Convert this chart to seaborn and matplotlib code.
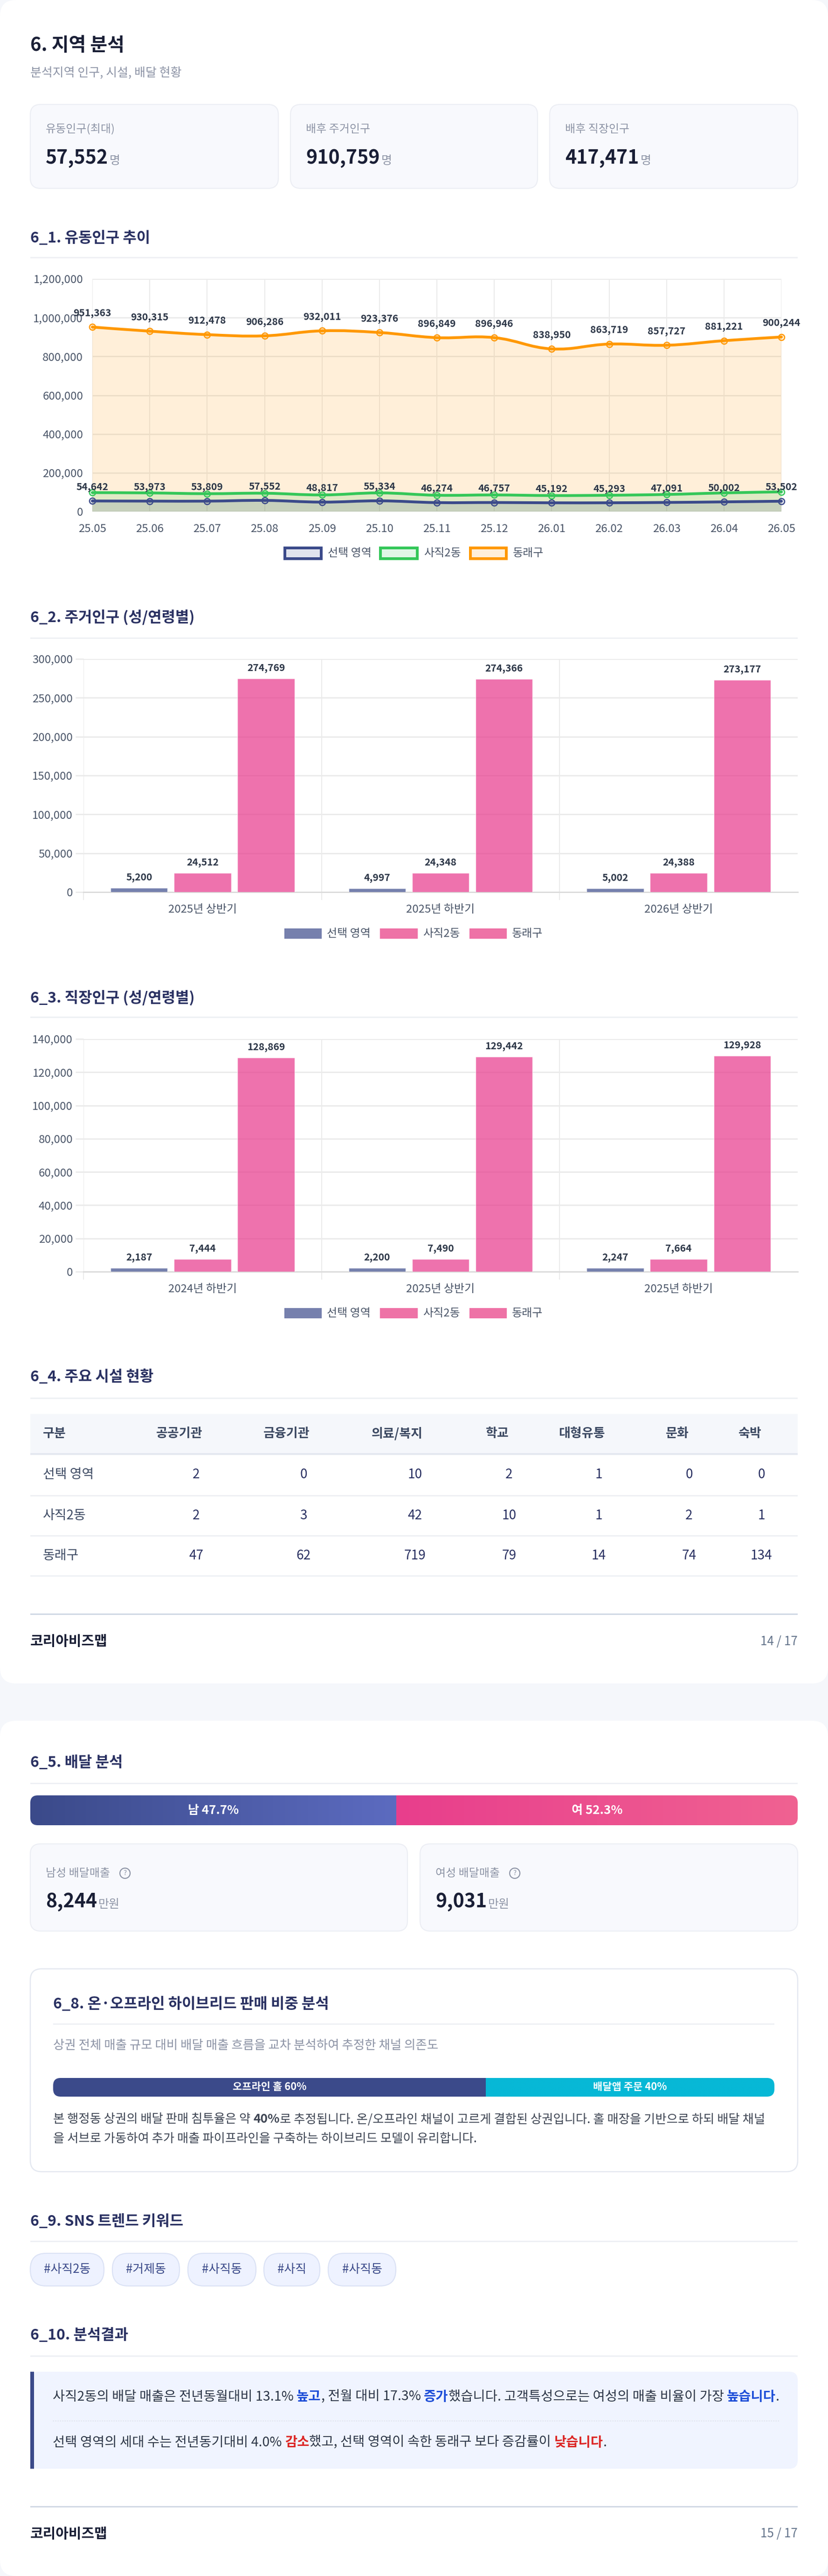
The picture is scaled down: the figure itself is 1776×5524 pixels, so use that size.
import numpy as np
import pandas as pd
import matplotlib
matplotlib.use("Agg")
import matplotlib.pyplot as plt
import seaborn as sns
from matplotlib.patches import FancyBboxPatch, PathPatch, Rectangle, Circle
from matplotlib.path import Path
from matplotlib.colors import LinearSegmentedColormap
from matplotlib.ticker import FuncFormatter

# --- data ---
months = ["25.05", "25.06", "25.07", "25.08", "25.09", "25.10", "25.11", "25.12",
          "26.01", "26.02", "26.03", "26.04", "26.05"]
float_selected = [54642, 53973, 53809, 57552, 48817, 55334, 46274, 46757, 45192, 45293, 47091, 50002, 53502]
float_sajik = [97800, 96200, 92200, 94600, 85800, 96200, 84200, 85800, 82600, 84200, 88200, 96200, 101800]
float_dongnae = [951363, 930315, 912478, 906286, 932011, 923376, 896849, 896946, 838950, 863719, 857727, 881221, 900244]

area_names = ["선택 영역", "사직2동", "동래구"]

resident_periods = ["2025년 상반기", "2025년 하반기", "2026년 상반기"]
resident_selected = [5200, 4997, 5002]
resident_sajik = [24512, 24348, 24388]
resident_dongnae = [274769, 274366, 273177]

worker_periods = ["2024년 하반기", "2025년 상반기", "2025년 하반기"]
worker_selected = [2187, 2200, 2247]
worker_sajik = [7444, 7490, 7664]
worker_dongnae = [128869, 129442, 129928]

facility_cols = ["공공기관", "금융기관", "의료/복지", "학교", "대형유통", "문화", "숙박"]
facility_selected = [2, 0, 10, 2, 1, 0, 0]
facility_sajik = [2, 3, 42, 10, 1, 2, 1]
facility_dongnae = [47, 62, 719, 79, 14, 74, 134]

delivery_gender = [47.7, 52.3]
delivery_channel = [60, 40]
keywords = ["#사직2동", "#거제동", "#사직동", "#사직", "#사직동"]

# --- colours ---
NAVY = "#3b4a8a"
GREEN = "#34c759"
ORANGE = "#ff9800"
PINK = "#e8378a"
GRID = "#ebebeb"
AXIS = "#dcdcdc"
TICK = "#4a5568"
LABEL = "#2d3748"
INK = "#1a1f36"
HEAD = "#2a3162"
MUTED = "#8d94a6"
RULE = "#eef0f4"
PANEL = "#f8f9fd"
PANEL_EDGE = "#eceef4"
PAGE = "#f5f7fb"

W, H = 1776, 5524
DPI = 100

sns.set_theme(style="white")
plt.rcParams["font.family"] = ["Noto Sans CJK KR", "DejaVu Sans"]
plt.rcParams["axes.unicode_minus"] = False


def pt(px):
    return px * 72 / DPI


fig = plt.figure(figsize=(W / DPI, H / DPI), dpi=DPI, facecolor=PAGE)
bg = fig.add_axes([0, 0, 1, 1], zorder=0)
bg.set_xlim(0, W)
bg.set_ylim(H, 0)
bg.axis("off")


def px_axes(left, top, right, bottom, zorder=2):
    a = fig.add_axes([left / W, 1 - bottom / H, (right - left) / W, (bottom - top) / H], zorder=zorder)
    a.patch.set_alpha(0)
    return a


def text(x, y, s, size, color=INK, weight="normal", ha="left", **kw):
    return bg.text(x, y, s, fontsize=pt(size), color=color, fontweight=weight, ha=ha, va="center", **kw)


def box(x0, y0, x1, y1, r, face, edge="none", lw=0, z=1):
    p = FancyBboxPatch((x0, y0), x1 - x0, y1 - y0, boxstyle=f"round,pad=0,rounding_size={r}",
                       facecolor=face, edgecolor=edge, linewidth=lw, zorder=z)
    bg.add_patch(p)
    return p


def heading(x, y, s, rule_y, right=1711):
    text(x, y, s, 32, HEAD, "bold")
    bg.add_patch(Rectangle((x, rule_y - 1.5), right - x, 3, facecolor=RULE, edgecolor="none", zorder=2))


def stat_card(x0, y0, x1, y1, label, value, unit, label_y, value_y, help_icon=False):
    box(x0, y0, x1, y1, 22, PANEL, PANEL_EDGE, 1.6)
    tx = x0 + 33
    t = text(tx, label_y, label, 24, MUTED)
    v = text(tx, value_y, value, 41, INK, "bold")
    fig.canvas.draw_idle()
    r = fig.canvas.get_renderer()
    vx = bg.transData.inverted().transform(v.get_window_extent(r))[1][0]
    text(vx + 3, value_y + 6, unit, 25, MUTED)
    if help_icon:
        lx = bg.transData.inverted().transform(t.get_window_extent(r))[1][0]
        bg.add_patch(Circle((lx + 32, label_y), 11, facecolor="none", edgecolor=MUTED, linewidth=1.6, zorder=3))
        text(lx + 32, label_y, "?", 15, MUTED, ha="center", zorder=4)


def measure(s, size, weight):
    # trailing spaces do not count in the extent, so measure with a stop on each side
    r = fig.canvas.get_renderer()
    t = bg.text(0, 0, "." + s + ".", fontsize=pt(size), fontweight=weight)
    d = bg.text(0, 0, "..", fontsize=pt(size), fontweight=weight)
    w = t.get_window_extent(r).width - d.get_window_extent(r).width
    t.remove()
    d.remove()
    return w


def rich(x, y, parts, size, color):
    for s, c, wt in parts:
        text(x, y, s, size, c or color, wt)
        x += measure(s, size, wt)


def smooth_path(xs, ys, base=None):
    pts = list(zip(xs, ys))
    verts = [pts[0]]
    codes = [Path.MOVETO]
    for i in range(len(pts) - 1):
        p0 = pts[max(i - 1, 0)]
        p1 = pts[i]
        p2 = pts[i + 1]
        p3 = pts[min(i + 2, len(pts) - 1)]
        c1 = (p1[0] + (p2[0] - p0[0]) * 0.2, p1[1] + (p2[1] - p0[1]) * 0.2)
        c2 = (p2[0] - (p3[0] - p1[0]) * 0.2, p2[1] - (p3[1] - p1[1]) * 0.2)
        verts += [c1, c2, p2]
        codes += [Path.CURVE4] * 3
    if base is not None:
        verts += [(xs[-1], base), (xs[0], base), (xs[0], base)]
        codes += [Path.LINETO, Path.LINETO, Path.CLOSEPOLY]
    return Path(verts, codes)


def legend_row(y, h, boxes, colors, faces, lw):
    for name, (x0, x1), c, f in zip(area_names, boxes, colors, faces):
        bg.add_patch(Rectangle((x0 + lw / 2, y - h / 2 + lw / 2), x1 - x0 - lw, h - lw,
                               facecolor=f, edgecolor=c, linewidth=pt(lw), zorder=3))
        text(x1 + 11, y, name, 24, TICK)


# --- page cards ---
box(0, 0, W, 3610, 34, "white")
box(0, 3690, W, H, 34, "white")

# --- summary ---
text(65, 97, "6. 지역 분석", 40, INK, "bold")
text(65, 157, "분석지역 인구, 시설, 배달 현황", 26, MUTED)
stat_card(65, 224, 597, 404, "유동인구(최대)", f"{max(float_selected):,}", "명", 277, 339)
stat_card(623, 224, 1153, 404, "배후 주거인구", "910,759", "명", 277, 339)
stat_card(1179, 224, 1711, 404, "배후 직장인구", "417,471", "명", 277, 339)

# --- 6_1 line chart ---
heading(65, 511, "6_1. 유동인구 추이", 552)
ax = px_axes(198, 598, 1676, 1097)
xs = np.arange(len(months))
series = [(float_dongnae, ORANGE), (float_sajik, GREEN), (float_selected, NAVY)]
for vals, c in series:
    ax.add_patch(PathPatch(smooth_path(xs, vals, 0), facecolor=c, alpha=0.15, edgecolor="none", zorder=3))
for vals, c in series:
    ax.add_patch(PathPatch(smooth_path(xs, vals), facecolor="none", edgecolor=c, linewidth=pt(6),
                           capstyle="round", zorder=4, clip_on=False))
    face = matplotlib.colors.to_rgba(c, 0.15)
    sns.lineplot(x=xs, y=vals, ax=ax, color=c, linestyle="", marker="o", markersize=pt(13),
                 markerfacecolor=face, markeredgecolor=c, markeredgewidth=pt(2.5),
                 errorbar=None, legend=False, zorder=5, clip_on=False)
for vals in (float_dongnae, float_selected):
    for i, v in enumerate(vals):
        ax.annotate(f"{v:,}", (i, v), xytext=(0, pt(30)), textcoords="offset points", ha="center", va="center",
                    fontsize=pt(21), fontweight="bold", color=LABEL, zorder=6, annotation_clip=False)
ax.set_xlim(0, len(months) - 1)
ax.set_ylim(0, 1200000)
ax.set_xticks(xs, months)
ax.set_yticks(range(0, 1200001, 200000))
ax.yaxis.set_major_formatter(FuncFormatter(lambda v, _: f"{int(v):,}"))
ax.grid(True, axis="y", color=GRID, linewidth=pt(3))
ax.grid(True, axis="x", color="#e6e6e6", linewidth=pt(1.6))
ax.set_axisbelow(True)
ax.tick_params(axis="y", length=pt(17), width=pt(3), color=GRID, labelsize=pt(24), labelcolor=TICK, pad=pt(3))
ax.tick_params(axis="x", length=pt(16), width=pt(1.6), color="#e6e6e6", labelsize=pt(24), labelcolor=TICK, pad=pt(10))
sns.despine(ax=ax, left=True, bottom=True)
ax.set_xlabel("")
ax.set_ylabel("")
legend_row(1186, 29, [(608, 692), (813, 898), (1006, 1089)], [NAVY, GREEN, ORANGE],
           ["#e0e3ed", "#e0f6e6", "#ffefd9"], 6)


def bar_chart(top, bottom, periods, selected, sajik, dongnae, ymax, step):
    a = px_axes(179, top, 1711, bottom)
    df = pd.DataFrame({
        "period": periods * 3,
        "area": [n for n in area_names for _ in periods],
        "value": selected + sajik + dongnae,
    })
    sns.barplot(data=df, x="period", y="value", hue="area", hue_order=area_names, ax=a,
                palette=[NAVY, PINK, PINK], alpha=0.7, saturation=1, width=0.8, gap=0.1,
                errorbar=None, legend=False, zorder=3)
    for c in a.containers:
        a.bar_label(c, labels=[f"{int(b.get_height()):,}" for b in c], padding=pt(12),
                    fontsize=pt(21), fontweight="bold", color=LABEL, zorder=5)
    a.set_xlim(-0.5, 2.5)
    a.set_ylim(0, ymax)
    a.set_yticks(range(0, ymax + 1, step))
    a.yaxis.set_major_formatter(FuncFormatter(lambda v, _: f"{int(v):,}"))
    a.set_xticks([-0.5, 0.5, 1.5], minor=True)
    a.grid(True, axis="y", which="major", color=GRID, linewidth=pt(3))
    a.grid(True, axis="x", which="minor", color="#e6e6e6", linewidth=pt(1.6))
    a.set_axisbelow(True)
    a.tick_params(axis="y", length=pt(17), width=pt(3), color=GRID, labelsize=pt(24), labelcolor=TICK, pad=pt(6), left=True)
    a.tick_params(axis="x", which="major", length=0, labelsize=pt(24), labelcolor=TICK, pad=pt(26))
    a.tick_params(axis="x", which="minor", length=pt(17), width=pt(1.6), color="#e6e6e6", bottom=True)
    sns.despine(ax=a, left=True, bottom=False)
    a.spines["bottom"].set_color(AXIS)
    a.spines["bottom"].set_linewidth(pt(3))
    a.set_xlabel("")
    a.set_ylabel("")
    return a


# --- 6_2 ---
heading(65, 1324, "6_2. 주거인구 (성/연령별)", 1368)
bar_chart(1413, 1913, resident_periods, resident_selected, resident_sajik, resident_dongnae, 300000, 50000)
legend_row(2002, 23, [(610, 690), (815, 896), (1007, 1087)], ["#7680ad", "#ee72a6", "#ee72a6"],
           ["#7680ad", "#ee72a6", "#ee72a6"], 0.1)

# --- 6_3 ---
heading(65, 2140, "6_3. 직장인구 (성/연령별)", 2181)
bar_chart(2228, 2727, worker_periods, worker_selected, worker_sajik, worker_dongnae, 140000, 20000)
legend_row(2816, 23, [(610, 690), (815, 896), (1007, 1087)], ["#7680ad", "#ee72a6", "#ee72a6"],
           ["#7680ad", "#ee72a6", "#ee72a6"], 0.1)

# --- 6_4 table ---
heading(65, 2953, "6_4. 주요 시설 현황", 2998)
bg.add_patch(Rectangle((65, 3032), 1646, 86, facecolor="#f5f7fb", edgecolor="none", zorder=2))
bg.add_patch(Rectangle((65, 3116), 1646, 4, facecolor="#e4e8f0", edgecolor="none", zorder=3))
text(92, 3074, "구분", 27, "#3d4a63", "bold", zorder=4)
header_x = [385, 615, 852, 1067, 1248, 1453, 1609]
value_x = [421, 651, 890, 1092, 1284, 1478, 1633]
for c, hx in zip(facility_cols, header_x):
    text(hx, 3074, c, 27, "#3d4a63", "bold", ha="center", zorder=4)
rows = [(area_names[0], facility_selected, 3162, 3207),
        (area_names[1], facility_sajik, 3250, 3293),
        (area_names[2], facility_dongnae, 3336, 3379)]
for name, vals, y, line_y in rows:
    text(92, y, name, 28, "#3d4a63", zorder=4)
    for v, vx in zip(vals, value_x):
        text(vx, y, str(v), 28, "#2a3162", ha="center", zorder=4)
    bg.add_patch(Rectangle((65, line_y - 1), 1646, 2.5, facecolor=RULE, edgecolor="none", zorder=3))

# footer
bg.add_patch(Rectangle((65, 3460), 1646, 2.5, facecolor="#d0d8e4", edgecolor="none", zorder=3))
text(65, 3520, "코리아비즈맵", 30, INK, "bold")
text(1711, 3520, "14 / 17", 26, "#64748b", ha="right")


def share_bar(left, top, right, bottom, radius, shares, names, gradients, size):
    clip = box(left, top, right, bottom, radius, "none")
    a = px_axes(left, top, right, bottom, zorder=3)
    a.set_xlim(0, sum(shares))
    a.set_ylim(-0.5, 0.5)
    a.axis("off")
    start = 0
    for share, name, (c0, c1) in zip(shares, names, gradients):
        cmap = LinearSegmentedColormap.from_list("g", [c0, c1])
        im = a.imshow(np.linspace(0, 1, 256).reshape(1, -1), cmap=cmap, aspect="auto",
                      extent=(start, start + share, -0.5, 0.5))
        im.set_clip_path(clip)
        a.text(start + share / 2, 0, f"{name} {share:g}%", color="white", fontsize=pt(size), fontweight="bold",
               ha="center", va="center")
        start += share
    a.set_xlim(0, sum(shares))
    a.set_ylim(-0.5, 0.5)


# --- 6_5 ---
heading(65, 3780, "6_5. 배달 분석", 3824)
share_bar(65, 3850, 1711, 3914, 16, delivery_gender, ["남", "여"],
          [(NAVY, "#5c6bc0"), ("#e83e8c", "#f06292")], 26)
stat_card(65, 3954, 874, 4141, "남성 배달매출", "8,244", "만원", 4017, 4078, help_icon=True)
stat_card(901, 3954, 1711, 4141, "여성 배달매출", "9,031", "만원", 4017, 4078, help_icon=True)

# --- 6_8 ---
box(65, 4222, 1711, 4657, 24, "white", "#e4e8f0", 1.8)
heading(114, 4298, "6_8. 온·오프라인 하이브리드 판매 비중 분석", 4340, right=1661)
text(114, 4387, "상권 전체 매출 규모 대비 배달 매출 흐름을 교차 분석하여 추정한 채널 의존도", 26.5, MUTED)
share_bar(114, 4456, 1661, 4496, 16, delivery_channel, ["오프라인 홀", "배달앱 주문"],
          [(NAVY, NAVY), ("#07b8d6", "#07b8d6")], 22)
rich(114, 4545, [("본 행정동 상권의 배달 판매 침투율은 약 ", None, "normal"), ("40%", None, "bold"),
                 ("로 추정됩니다. 온/오프라인 채널이 고르게 결합된 상권입니다. 홀 매장을 기반으로 하되 배달 채널", None, "normal")],
     26.4, "#3f4654")
text(114, 4586, "을 서브로 가동하여 추가 매출 파이프라인을 구축하는 하이브리드 모델이 유리합니다.", 26.4, "#3f4654")

# --- 6_9 ---
heading(65, 4764, "6_9. SNS 트렌드 키워드", 4806)
chip_x = [(65, 223), (241, 385), (403, 549), (566, 686), (704, 849)]
for kw, (x0, x1) in zip(keywords, chip_x):
    box(x0, 4832, x1, 4902, 34, "#eef2ff", "#dbe2f5", 1.6)
    text((x0 + x1) / 2, 4866, kw, 26, NAVY, ha="center", zorder=4)

# --- 6_10 ---
heading(65, 5008, "6_10. 분석결과", 5052)
box(65, 5086, 1711, 5294, 18, "#f0f4ff")
bg.add_patch(Rectangle((65, 5086), 8, 208, facecolor=NAVY, edgecolor="none", zorder=3))
BLUE = "#1d4ed8"
RED = "#dc2626"
BODY = "#2d3748"
rich(113, 5140, [("사직2동의 배달 매출은 전년동월대비 13.1% ", None, "normal"), ("높고", BLUE, "bold"),
                 (", 전월 대비 17.3% ", None, "normal"), ("증가", BLUE, "bold"),
                 ("했습니다. 고객특성으로는 여성의 매출 비율이 가장 ", None, "normal"), ("높습니다", BLUE, "bold"),
                 (".", None, "normal")], 28.5, BODY)
bg.plot([113, 1671], [5191, 5191], color="#e2e6f0", linewidth=pt(2.5), linestyle=(0, (1, 1)), zorder=3)
rich(113, 5238, [("선택 영역의 세대 수는 전년동기대비 4.0% ", None, "normal"), ("감소", RED, "bold"),
                 ("했고, 선택 영역이 속한 동래구 보다 증감률이 ", None, "normal"), ("낮습니다", RED, "bold"),
                 (".", None, "normal")], 28.5, BODY)

bg.add_patch(Rectangle((65, 5374), 1646, 2.5, facecolor="#d0d8e4", edgecolor="none", zorder=3))
text(65, 5434, "코리아비즈맵", 30, INK, "bold")
text(1711, 5434, "15 / 17", 26, "#64748b", ha="right")

bg.set_xlim(0, W)
bg.set_ylim(H, 0)
fig.savefig("out.png", dpi=DPI, facecolor=PAGE)
